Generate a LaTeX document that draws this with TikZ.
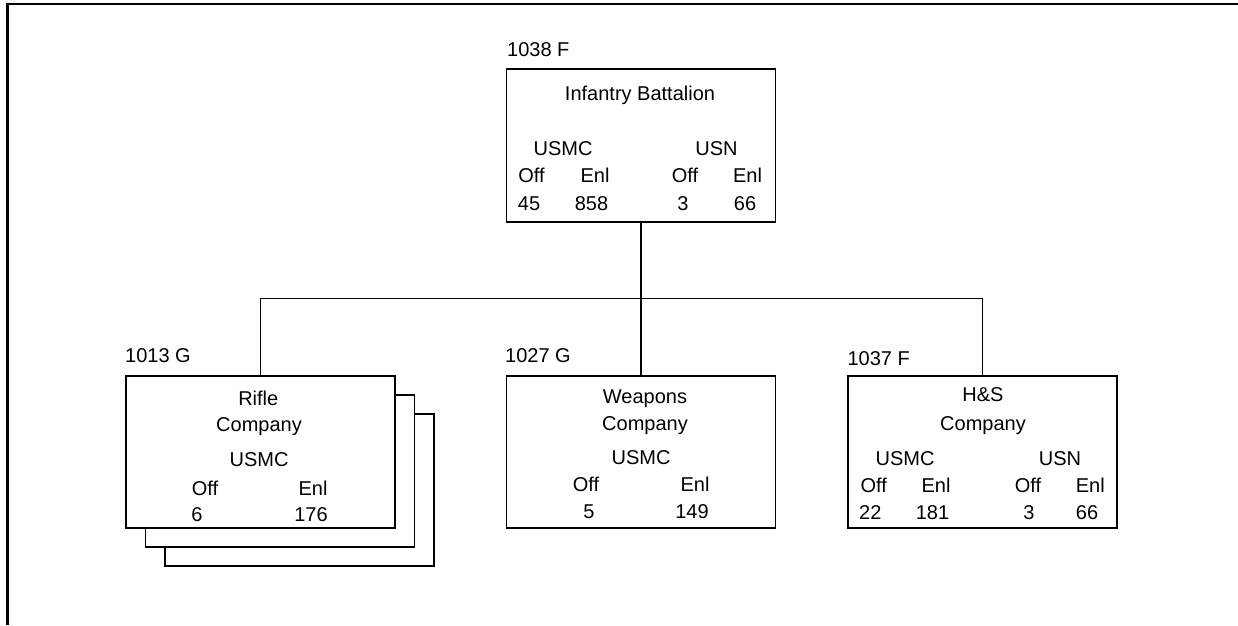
\documentclass[tikz,border=0pt]{standalone}
\usepackage{fontspec}
\setmainfont{Liberation Sans}
\begin{document}
\begin{tikzpicture}[x=1pt,y=-1pt,
  box/.style={draw,line width=1.2pt,fill=white,inner sep=0pt,minimum width=269pt,minimum height=152pt},
  txt/.style={anchor=base,inner sep=0pt,font=\fontsize{20}{24}\selectfont},
  lbl/.style={anchor=base west,inner sep=0pt,font=\fontsize{20}{24}\selectfont},
  conn/.style={line width=1.2pt}]
\useasboundingbox (0,0) rectangle (1238,625);
% frame
\draw[line width=2.5pt] (7.5,625) -- (7.5,4) -- (1238,4);
% top box
\node[box,minimum height=153pt] (top) at (641,145.5) {};
\node[lbl] (ltop) at (507,56.7) {1038 F};
\node[txt] (t1) at (640,100) {Infantry Battalion};
\node[txt] (t2) at (563,155) {USMC};
\node[txt] (t3) at (716.5,155) {USN};
\node[txt] (t4) at (531.5,182) {Off};
\node[txt] (t5) at (595,182) {Enl};
\node[txt] (t6) at (685,182) {Off};
\node[txt] (t7) at (747.5,182) {Enl};
\node[txt] (t8) at (529,210) {45};
\node[txt] (t9) at (591.5,210) {858};
\node[txt] (t10) at (683,210) {3};
\node[txt] (t11) at (745,210) {66};
% rifle company (stacked)
\node[box] (rifle3) at (299.5,490) {};
\node[box] (rifle2) at (280,471) {};
\node[box] (rifle) at (260.5,452) {};
\node[lbl] (lrifle) at (125,362.3) {1013 G};
\node[txt] (r1) at (258.3,405) {Rifle};
\node[txt] (r2) at (259,431) {Company};
\node[txt] (r3) at (259,466.7) {USMC};
\node[txt] (r4) at (205,495) {Off};
\node[txt] (r5) at (313,495) {Enl};
\node[txt] (r6) at (197,521.7) {6};
\node[txt] (r7) at (311,521.7) {176};
% weapons company
\node[box] (wpn) at (641,452) {};
\node[lbl] (lwpn) at (505,362.7) {1027 G};
\node[txt] (w1) at (645,403) {Weapons};
\node[txt] (w2) at (645,430) {Company};
\node[txt] (w3) at (641,464) {USMC};
\node[txt] (w4) at (586,491.7) {Off};
\node[txt] (w5) at (695,491.7) {Enl};
\node[txt] (w6) at (589,518) {5};
\node[txt] (w7) at (692,518) {149};
% H&S company
\node[box] (hs) at (982.5,452) {};
\node[lbl] (lhs) at (847.3,365) {1037 F};
\node[txt] (h1) at (983,401.7) {H\&S};
\node[txt] (h2) at (983,430.7) {Company};
\node[txt] (h3) at (905,465) {USMC};
\node[txt] (h4) at (1060,465) {USN};
\node[txt] (h5) at (873.7,492) {Off};
\node[txt] (h6) at (936,492) {Enl};
\node[txt] (h7) at (1028,492) {Off};
\node[txt] (h8) at (1090.3,492) {Enl};
\node[txt] (h9) at (870.3,519) {22};
\node[txt] (h10) at (932.5,519) {181};
\node[txt] (h11) at (1029,519) {3};
\node[txt] (h12) at (1087,519) {66};
% connectors
\coordinate (bus) at (641,298.3);
\draw[conn] (top.south) -- (wpn.north);
\draw[conn] (rifle.north) |- (bus) -| (hs.north);
\end{tikzpicture}
\end{document}
